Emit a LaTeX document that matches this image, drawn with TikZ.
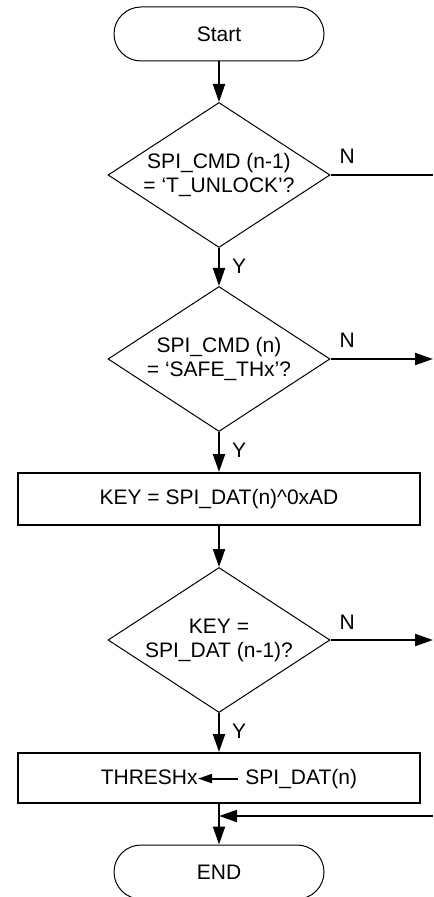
\documentclass[tikz,border=0pt]{standalone}
\usepackage{fontspec}
\setmainfont{Liberation Sans}
\usetikzlibrary{shapes.geometric,arrows.meta}

\begin{document}
\begin{tikzpicture}[x=0.5pt, y=-0.5pt, >={Triangle[length=9pt,width=6pt]},
  font=\fontsize{10.5}{12}\selectfont,
  terminal/.style={draw, line width=0.5pt, rounded corners=13.5pt,
    minimum width=105pt, minimum height=27pt},
  decision/.style={draw, line width=0.5pt, shape=diamond, aspect=1.53,
    inner sep=0pt, minimum width=111pt, minimum height=72.5pt, align=center},
  process/.style={draw, line width=1pt, minimum width=201pt, minimum height=26pt},
  flow/.style={->, line width=1pt},
  yeslabel/.style={anchor=north west, inner sep=0pt, xshift=6pt, yshift=-5pt},
  nolabel/.style={anchor=south west, inner sep=0pt, xshift=4pt, yshift=5pt}]

  \useasboundingbox (0,0) rectangle (433,897);
  \coordinate (rim) at (433,0);

  % the steps, top to bottom
  \node[terminal] (start) at (219,34) {Start};
  \node[decision] (unlock) at (219,175) {SPI\_CMD (n-1)\\= ‘T\_UNLOCK’?};
  \node[decision] (safe) at (219,359) {SPI\_CMD (n)\\= ‘SAFE\_THx’?};
  \node[process] (key) at (219,499) {KEY = SPI\_DAT(n)\textasciicircum 0xAD};
  \node[decision] (check) at (219,640) {KEY =\\SPI\_DAT (n-1)?};
  \node[process, minimum height=25pt] (store) at (219,778) {};
  \node[terminal] (end) at (219,872) {END};

  % the assignment inside the last box
  \node[anchor=base east, inner sep=0pt] (thr) at (198,784) {THRESHx};
  \node[anchor=base west, inner sep=0pt] (dat) at (245,784) {SPI\_DAT(n)};
  \draw[->, line width=1pt, >={Triangle[length=7pt,width=4.5pt]}]
        ([xshift=-3.5pt]dat.west) -- (dat.west -| thr.east);

  % yes branches
  \draw[flow] (start) -- (unlock);
  \draw[flow] (unlock.south) -- node[yeslabel, pos=0] (y1) {Y} (safe.north);
  \draw[flow] (safe.south) -- node[yeslabel, pos=0] (y2) {Y} (key);
  \draw[flow] (key) -- (check.north);
  \draw[flow] (check.south) -- node[yeslabel, pos=0] (y3) {Y} (store);
  \draw[flow] (store) -- (end);

  % no branches, leaving at the right
  \draw[line width=1pt] (unlock.east) -- node[nolabel, pos=0] (n1) {N} (unlock.east -| rim);
  \draw[flow] (safe.east) -- node[nolabel, pos=0] (n2) {N} (safe.east -| rim);
  \draw[flow] (check.east) -- node[nolabel, pos=0] (n3) {N} (check.east -| rim);

  % the return line before END
  \coordinate (merge) at (219,816);
  \draw[flow] (merge -| rim) -- (merge);

\end{tikzpicture}
\end{document}
